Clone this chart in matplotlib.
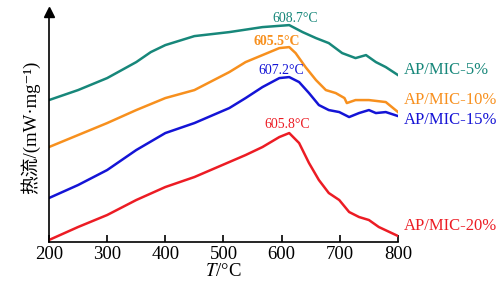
import matplotlib
matplotlib.use("Agg")
from matplotlib import pyplot as plt

plt.rcParams['font.family'] = ['Liberation Serif', 'Noto Sans CJK SC', 'DejaVu Sans']
plt.rcParams['mathtext.fontset'] = 'stix'

# (heat flow in arbitrary units, curves offset)
t5 = [200, 250, 300, 350, 375, 400, 450, 510, 567, 613, 636, 659, 681, 704, 727, 745, 762, 779, 800]
hf5 = [142, 152, 164, 180, 190, 197, 206, 210, 215, 217, 210, 204, 199, 189, 184, 187, 180, 175, 167]

t10 = [200, 250, 300, 350, 400, 450, 510, 538, 567, 596, 613, 624, 641, 659, 676, 693, 708, 712, 727, 750, 779, 800]
hf10 = [95, 107, 119, 132, 144, 152, 170, 180, 187, 194, 195, 189, 175, 162, 152, 149, 144, 139, 142, 142, 140, 130]

t15 = [200, 250, 300, 350, 400, 450, 510, 538, 567, 596, 613, 630, 647, 664, 681, 699, 716, 733, 750, 762, 779, 800]
hf15 = [44, 57, 72, 92, 109, 119, 134, 144, 155, 164, 165, 160, 149, 137, 132, 130, 125, 129, 132, 129, 130, 126]

t20 = [200, 250, 300, 350, 400, 450, 510, 538, 567, 596, 613, 630, 647, 664, 681, 699, 716, 733, 750, 767, 800]
hf20 = [2, 15, 27, 42, 55, 65, 80, 87, 95, 105, 109, 99, 79, 62, 49, 42, 30, 25, 22, 15, 6]

names = ['AP/MIC-5%', 'AP/MIC-10%', 'AP/MIC-15%', 'AP/MIC-20%']
peaks = ['608.7°C', '605.5°C', '607.2°C', '605.8°C']
colors = ['#17877a', '#f7901e', '#1414d6', '#ec1c24']

fig = plt.figure(figsize=(4.96, 2.87), dpi=100)
ax = fig.add_axes([0.0988, 0.1568, 0.7036, 0.801])

for t, hf, c in zip([t5, t10, t15, t20], [hf5, hf10, hf15, hf20], colors):
    ax.plot(t, hf, color=c, lw=1.8)

ax.set_xlim(200, 800)
ax.set_ylim(0, 230)
ax.spines['top'].set_visible(False)
ax.spines['right'].set_visible(False)
ax.spines['left'].set_linewidth(1.2)
ax.spines['bottom'].set_linewidth(1.2)
ax.set_yticks([])
ax.set_xticks([200, 300, 400, 500, 600, 700, 800])
ax.tick_params(axis='x', direction='in', length=5, width=1.2, labelsize=13.5, pad=3)
ax.plot(0, 1, '^k', transform=ax.transAxes, clip_on=False, markersize=7)

ax.set_xlabel('$T$/°C', fontsize=13.5, labelpad=0)
ax.set_ylabel('热流/(mW·mg⁻¹)', fontsize=13.5, labelpad=6)

# curve labels at right
label_y = [172, 142, 122, 16]
for name, y, c in zip(names, label_y, colors):
    ax.text(810, y, name, color=c, fontsize=12, va='center', ha='left', clip_on=False)

# peak temperatures
peak_x = [624, 592, 600, 610]
peak_y = [224, 201, 172, 118]
for p, x, y, c, w in zip(peaks, peak_x, peak_y, colors, ['normal', 'bold', 'normal', 'normal']):
    ax.text(x, y, p, color=c, fontsize=10, ha='center', va='center', fontweight=w)

fig.savefig('out.png', dpi=100)
